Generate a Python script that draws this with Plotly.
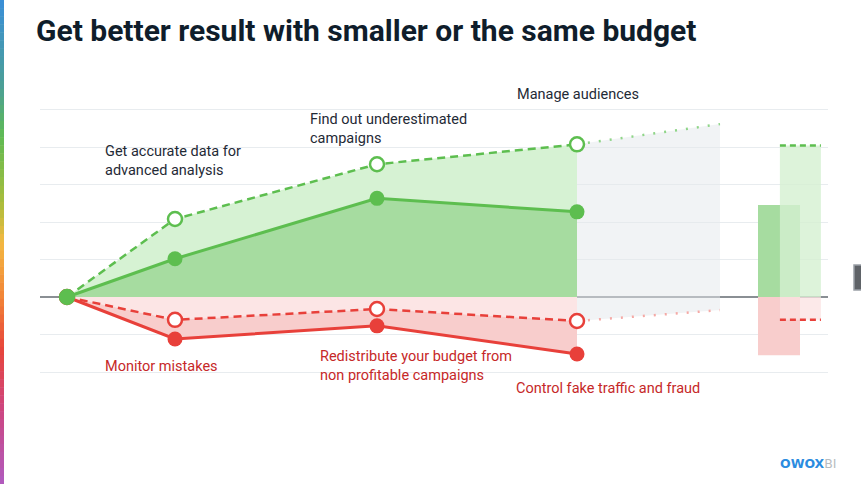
import plotly.graph_objects as go

# ---- data ----
x_steps = [0, 0.54, 1.55, 2.55]
green_actual = [0, 1.02, 2.63, 2.27]
green_potential = [0, 2.08, 3.54, 4.07]
red_actual = [0, -1.12, -0.77, -1.52]
red_potential = [0, -0.61, -0.32, -0.64]

x_forecast = [2.55, 3.265]
green_forecast = [4.07, 4.61]
red_forecast = [-0.64, -0.35]

bar_x_actual = 3.56
bar_x_potential = 3.667
bar_green_actual = 2.45
bar_green_potential = 4.04
bar_red_actual = -1.55
bar_red_potential = -0.61

green_labels = ["Get accurate data for<br>advanced analysis",
                "Find out underestimated<br>campaigns",
                "Manage audiences"]
red_labels = ["Monitor mistakes",
              "Redistribute your budget from<br>non profitable campaigns",
              "Control fake traffic and fraud"]
title_text = "Get better result with smaller or the same budget"

GREEN = "#5dbe4f"
RED = "#e8403a"
FONT = "Roboto"

fig = go.Figure()
zeros = [0] * len(x_steps)

# fills
fig.add_trace(go.Scatter(x=x_steps, y=zeros, mode="lines", line=dict(width=0), hoverinfo="skip"))
fig.add_trace(go.Scatter(x=x_steps, y=green_actual, mode="lines", line=dict(width=0),
                         fill="tonexty", fillcolor="#a6dca0", hoverinfo="skip"))
fig.add_trace(go.Scatter(x=x_steps, y=green_potential, mode="lines", line=dict(width=0),
                         fill="tonexty", fillcolor="#d6f2d3", hoverinfo="skip"))
fig.add_trace(go.Scatter(x=x_steps, y=zeros, mode="lines", line=dict(width=0), hoverinfo="skip"))
fig.add_trace(go.Scatter(x=x_steps, y=red_potential, mode="lines", line=dict(width=0),
                         fill="tonexty", fillcolor="#fce5e5", hoverinfo="skip"))
fig.add_trace(go.Scatter(x=x_steps, y=red_actual, mode="lines", line=dict(width=0),
                         fill="tonexty", fillcolor="#f8cdcc", hoverinfo="skip"))
# forecast gray area
fig.add_trace(go.Scatter(x=x_forecast, y=red_forecast, mode="lines", line=dict(width=0), hoverinfo="skip"))
fig.add_trace(go.Scatter(x=x_forecast, y=green_forecast, mode="lines", line=dict(width=0),
                         fill="tonexty", fillcolor="rgba(228,232,236,0.5)", hoverinfo="skip"))

# bars
fig.add_trace(go.Bar(x=[bar_x_actual], y=[bar_green_actual], base=0, width=0.21,
                     marker=dict(color="#a6dca0", line=dict(width=0))))
fig.add_trace(go.Bar(x=[bar_x_actual], y=[bar_red_actual], base=0, width=0.21,
                     marker=dict(color="#f8cdcc", line=dict(width=0))))
fig.add_trace(go.Bar(x=[bar_x_potential], y=[bar_green_potential], base=0, width=0.205,
                     marker=dict(color="rgba(212,240,209,0.8)", line=dict(width=0))))
fig.add_trace(go.Bar(x=[bar_x_potential], y=[bar_red_potential], base=0, width=0.205,
                     marker=dict(color="rgba(251,225,225,0.75)", line=dict(width=0))))
fig.add_trace(go.Scatter(x=[bar_x_potential - 0.1025, bar_x_potential + 0.1025],
                         y=[bar_green_potential] * 2, mode="lines",
                         line=dict(color=GREEN, width=2.5, dash="6px,4px")))
fig.add_trace(go.Scatter(x=[bar_x_potential - 0.1025, bar_x_potential + 0.1025],
                         y=[bar_red_potential] * 2, mode="lines",
                         line=dict(color=RED, width=2.5, dash="6px,4px")))

# forecast dotted lines
fig.add_trace(go.Scatter(x=x_forecast, y=green_forecast, mode="lines",
                         line=dict(color="#8fd588", width=2.5, dash="2px,9px")))
fig.add_trace(go.Scatter(x=x_forecast, y=red_forecast, mode="lines",
                         line=dict(color="#f5a9a5", width=2.5, dash="2px,9px")))

# lines
fig.add_trace(go.Scatter(x=x_steps, y=red_potential, mode="lines+markers",
                         line=dict(color=RED, width=2.5, dash="8px,5px"),
                         marker=dict(size=14, color="white", line=dict(color=RED, width=2.5))))
fig.add_trace(go.Scatter(x=x_steps, y=red_actual, mode="lines+markers",
                         line=dict(color=RED, width=3),
                         marker=dict(size=15, color=RED)))
fig.add_trace(go.Scatter(x=x_steps, y=green_potential, mode="lines+markers",
                         line=dict(color=GREEN, width=2.5, dash="8px,5px"),
                         marker=dict(size=14, color="white", line=dict(color=GREEN, width=2.5))))
fig.add_trace(go.Scatter(x=x_steps, y=green_actual, mode="lines+markers",
                         line=dict(color=GREEN, width=3),
                         marker=dict(size=15, color=GREEN)))

# annotations
green_pos = [(0.18, 3.63), (1.205, 4.48), (2.24, 5.4)]
red_pos = [(0.18, -1.85), (1.255, -1.85), (2.235, -2.43)]
for (ax, ay), t in zip(green_pos, green_labels):
    fig.add_annotation(x=ax, y=ay, text=t, showarrow=False, xanchor="left", yanchor="middle",
                       align="left", font=dict(family=FONT, size=14.5, color="#1f2a36"))
for (ax, ay), t in zip(red_pos, red_labels):
    fig.add_annotation(x=ax, y=ay, text=t, showarrow=False, xanchor="left", yanchor="middle",
                       align="left", font=dict(family=FONT, size=14.5, color="#c62828"))

fig.add_annotation(xref="paper", yref="paper", x=-0.007, y=(390 - 30) / 300,
                   text="<b>" + title_text + "</b>",
                   showarrow=False, xanchor="left", yanchor="middle",
                   font=dict(family=FONT, size=30, color="#0f1d2b"))
fig.add_annotation(xref="paper", yref="paper", x=(778 - 40) / 788, y=(390 - 463) / 300,
                   text="<b>OWOX</b><span style='color:#b8bcc0'>BI</span>",
                   showarrow=False, xanchor="left", yanchor="middle",
                   font=dict(family="DejaVu Sans", size=12.5, color="#2b8ce0"))

# decorative left gradient strip (top -> bottom)
stops = [(0.0, (59, 143, 217)), (0.18, (76, 160, 150)), (0.28, (95, 187, 85)),
         (0.42, (170, 190, 60)), (0.5, (244, 185, 66)), (0.62, (242, 130, 55)),
         (0.72, (232, 69, 60)), (0.85, (205, 70, 130)), (1.0, (176, 92, 192))]
n = 60
def interp(t):
    for (t0, c0), (t1, c1) in zip(stops[:-1], stops[1:]):
        if t0 <= t <= t1:
            f = (t - t0) / (t1 - t0)
            return tuple(int(c0[i] + (c1[i] - c0[i]) * f) for i in range(3))
    return stops[-1][1]
for i in range(n):
    ytop = 484 * i / n
    ybot = 484 * (i + 1) / n + 0.5
    c = interp((i + 0.5) / n)
    fig.add_shape(type="rect", xref="paper", yref="paper",
                  x0=(0 - 40) / 788, x1=(4 - 40) / 788,
                  y0=(390 - ybot) / 300, y1=(390 - ytop) / 300,
                  fillcolor="rgb(%d,%d,%d)" % c, line=dict(width=0), layer="above")
# partial button on right edge
fig.add_shape(type="rect", xref="paper", yref="paper",
              x0=(854 - 40) / 788, x1=(866 - 40) / 788,
              y0=(390 - 290) / 300, y1=(390 - 265) / 300,
              fillcolor="#5f6368", line=dict(color="#9aa0a6", width=1.5), layer="above")

fig.update_layout(
    width=861, height=484,
    margin=dict(l=40, r=33, t=90, b=94),
    paper_bgcolor="white", plot_bgcolor="white",
    showlegend=False, barmode="overlay",
    xaxis=dict(range=[-0.135, 3.805], showgrid=False, zeroline=False,
               showticklabels=False, fixedrange=True),
    yaxis=dict(range=[-2.48, 5.52], dtick=1, tick0=0, showgrid=True, gridcolor="#e8ecef",
               gridwidth=1, zeroline=True, zerolinecolor="#8a8f94", zerolinewidth=2,
               showticklabels=False, fixedrange=True),
)

fig.write_html("out.html", config={"displayModeBar": False},
               post_script="document.body.style.margin='0px';")
